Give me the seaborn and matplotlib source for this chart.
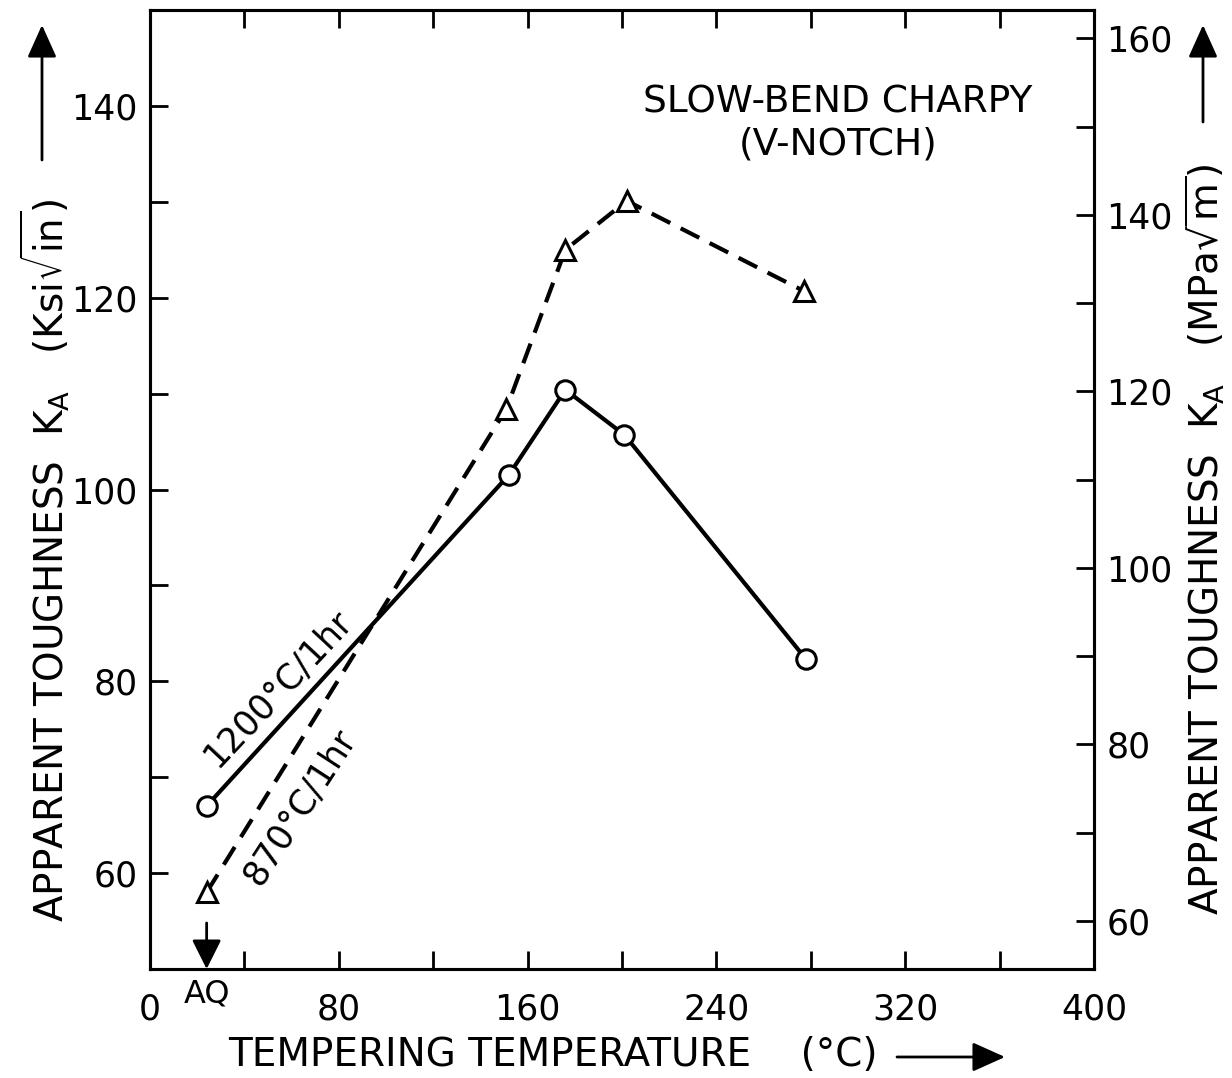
import matplotlib
matplotlib.use("Agg")
import matplotlib.pyplot as plt
from matplotlib.patches import FancyArrowPatch
import seaborn as sns
import pandas as pd

# ---- data ----
temp_1200 = [24, 152, 176, 201, 278]
ka_1200 = [67, 101.5, 110.4, 105.7, 82.3]
temp_870 = [24, 151, 176, 202, 277]
ka_870 = [58, 108.4, 125.0, 130.1, 120.7]
x_ticks = [0, 80, 160, 240, 320, 400]
left_ticks = [60, 80, 100, 120, 140]
right_ticks = [60, 80, 100, 120, 140, 160]

sns.set_style("ticks")
plt.rcParams['font.family'] = ['DejaVu Sans']
plt.rcParams['mathtext.default'] = 'regular'
for k in ['text.color', 'axes.labelcolor', 'xtick.color', 'ytick.color', 'axes.edgecolor']:
    plt.rcParams[k] = 'black'

W, H = 1232, 1078
fig = plt.figure(figsize=(W / 100, H / 100), dpi=100)
ax = fig.add_axes([150 / W, 1 - 969 / H, (1094 - 150) / W, (969 - 10) / H])

df1 = pd.DataFrame({"t": temp_1200, "k": ka_1200})
df2 = pd.DataFrame({"t": temp_870, "k": ka_870})

sns.lineplot(data=df1, x="t", y="k", ax=ax, color="black", lw=3,
             marker="o", markersize=14, markerfacecolor="white",
             markeredgecolor="black", markeredgewidth=2.2,
             estimator=None, sort=False)
sns.lineplot(data=df2, x="t", y="k", ax=ax, color="black", lw=3,
             linestyle=(0, (5, 2.8)),
             marker="^", markersize=15, markerfacecolor="white",
             markeredgecolor="black", markeredgewidth=2.2,
             estimator=None, sort=False)

ax.set_xlim(0, 400)
ax.set_ylim(50, 150)
ax.set_xlabel("")
ax.set_ylabel("")

tick_fs = 25
ax.set_xticks(range(0, 401, 40))
ax.set_xticklabels([str(v) if v in x_ticks else "" for v in range(0, 401, 40)],
                   fontsize=tick_fs)
ax.set_yticks(range(50, 151, 10))
ax.set_yticklabels([str(v) if v in left_ticks else "" for v in range(50, 151, 10)],
                   fontsize=tick_fs)
ax.tick_params(axis="x", direction="in", length=13, width=2, pad=17,
               top=True, bottom=True)
ax.tick_params(axis="y", direction="in", length=13, width=2, pad=9, left=True)
for s in ax.spines.values():
    s.set_linewidth(2.2)
    s.set_color("black")

ax2 = ax.twinx()
ax2.set_ylim(54.56, 163.2)
ax2.set_yticks(range(60, 161, 10))
ax2.set_yticklabels([str(v) if v in right_ticks else "" for v in range(60, 161, 10)],
                    fontsize=tick_fs)
ax2.tick_params(axis="y", direction="in", length=13, width=2, pad=9, right=True)
for s in ax2.spines.values():
    s.set_linewidth(2.2)
    s.set_color("black")

# annotations
ax.text(0.729, 0.922, "SLOW-BEND CHARPY\n(V-NOTCH)", transform=ax.transAxes,
        ha="center", va="top", fontsize=27, linespacing=1.2)
ax.text(54, 79.2, "1200°C/1hr", rotation=47, ha="center", va="center",
        fontsize=25, rotation_mode="anchor")
ax.text(63.5, 66.9, "870°C/1hr", rotation=57, ha="center", va="center",
        fontsize=25, rotation_mode="anchor")

# AQ arrow and label
ax.add_patch(FancyArrowPatch((24, 54.8), (24, 50), transform=ax.transData,
                             arrowstyle="-|>,head_length=18,head_width=9",
                             color="black", lw=2, clip_on=False,
                             shrinkA=0, shrinkB=0))
ax.text(24, 47.4, "AQ", ha="center", va="center", fontsize=23, clip_on=False)

# axis labels
fig.text(45 / W, 1 - 560 / H,
         r"APPARENT TOUGHNESS  K$_{A}$   (Ksi$\sqrt{in}$)",
         rotation=90, ha="center", va="center", fontsize=28)
fig.text(1205 / W, 1 - 540 / H,
         r"APPARENT TOUGHNESS  K$_{A}$   (MPa$\sqrt{m}$)",
         rotation=90, ha="center", va="center", fontsize=28)
fig.text(553 / W, 1 - 1055 / H, "TEMPERING TEMPERATURE    (°C)",
         ha="center", va="center", fontsize=28)

astyle = "-|>,head_length=20,head_width=9"
fig.add_artist(FancyArrowPatch(
    (42 / W, 1 - 160 / H), (42 / W, 1 - 25 / H), transform=fig.transFigure,
    arrowstyle=astyle, color="black", lw=2, shrinkA=0, shrinkB=0))
fig.add_artist(FancyArrowPatch(
    (1203 / W, 1 - 122 / H), (1203 / W, 1 - 25 / H), transform=fig.transFigure,
    arrowstyle=astyle, color="black", lw=2, shrinkA=0, shrinkB=0))
fig.add_artist(FancyArrowPatch(
    (897 / W, 1 - 1057 / H), (1005 / W, 1 - 1057 / H), transform=fig.transFigure,
    arrowstyle=astyle, color="black", lw=2, shrinkA=0, shrinkB=0))

fig.savefig("out.png", dpi=100)
